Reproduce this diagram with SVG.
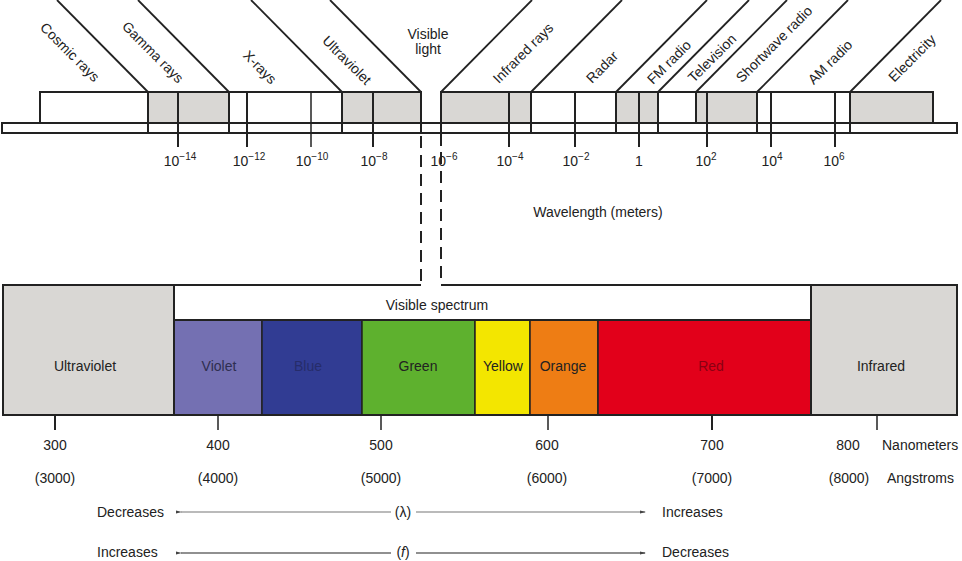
<svg xmlns="http://www.w3.org/2000/svg" width="962" height="561" viewBox="0 0 962 561">
<defs>
<style>
text{font-family:"Liberation Sans",Arial,sans-serif;font-size:14px;fill:#222}
.m{text-anchor:middle}
.box{stroke:#222;stroke-width:2}
.g{fill:#d9d7d4}
.w{fill:#fff}
.ln{stroke:#222;stroke-width:2;fill:none}
.tk{stroke:#222;stroke-width:2}
.dg{stroke:#222;stroke-width:1.8}
.dash{stroke:#222;stroke-width:2;stroke-dasharray:12 7;fill:none}
.band{stroke:#222;stroke-width:1.5}
</style>
<marker id="al" viewBox="0 0 6 6" refX="1" refY="3" markerWidth="6" markerHeight="6" orient="auto-start-reverse" markerUnits="userSpaceOnUse"><path d="M6,1.5 L0,3 L6,4.5 Z" fill="#444"/></marker>
<marker id="ar" viewBox="0 0 6 6" refX="5" refY="3" markerWidth="6" markerHeight="6" orient="auto" markerUnits="userSpaceOnUse"><path d="M0,1.5 L6,3 L0,4.5 Z" fill="#444"/></marker>
</defs>
<rect width="962" height="561" fill="#fff"/>

<!-- axis strip -->
<rect id="axis" x="2" y="123" width="955" height="10" class="box w"/>

<!-- top spectrum bands -->
<g id="cosmic"><rect x="40" y="92" width="108" height="31" class="box w"/><text class="m" transform="rotate(45 70 52)" x="70" y="57">Cosmic rays</text></g>
<g id="gamma"><rect x="148" y="92" width="81" height="31" class="box g"/><text class="m" transform="rotate(45 153 52)" x="153" y="57">Gamma rays</text></g>
<g id="xrays"><rect x="229" y="92" width="113" height="31" class="box w"/><text class="m" transform="rotate(45 260 67)" x="260" y="72">X-rays</text></g>
<g id="uv-top"><rect x="342" y="92" width="79" height="31" class="box g"/><text class="m" transform="rotate(45 347 60)" x="347" y="65">Ultraviolet</text></g>
<g id="visible-top"><text class="m" x="428" y="39">Visible</text><text class="m" x="428" y="54">light</text></g>
<g id="infrared-top"><rect x="441" y="92" width="90" height="31" class="box g"/><text class="m" transform="rotate(-45 523 53)" x="523" y="58">Infrared rays</text></g>
<g id="radar"><rect x="531" y="92" width="85" height="31" class="box w"/><text class="m" transform="rotate(-45 602 67)" x="602" y="72">Radar</text></g>
<g id="fm"><rect x="616" y="92" width="42" height="31" class="box g"/><text class="m" transform="rotate(-45 669 62)" x="669" y="67">FM radio</text></g>
<g id="tv"><rect x="658" y="92" width="38" height="31" class="box w"/><text class="m" transform="rotate(-45 712 58)" x="712" y="63">Television</text></g>
<g id="shortwave"><rect x="696" y="92" width="61" height="31" class="box g"/><text class="m" transform="rotate(-45 774 44)" x="774" y="49">Shortwave radio</text></g>
<g id="am"><rect x="757" y="92" width="93" height="31" class="box w"/><text class="m" transform="rotate(-45 830 62)" x="830" y="67">AM radio</text></g>
<g id="electricity"><rect x="850" y="92" width="83" height="31" class="box g"/><text class="m" transform="rotate(-45 912 58)" x="912" y="63">Electricity</text></g>

<!-- connectors -->
<g id="connectors">
<!-- diagonal leader lines -->
<line class="dg" x1="148" y1="92" x2="57" y2="0"/>
<line class="dg" x1="229" y1="92" x2="138" y2="0"/>
<line class="dg" x1="342" y1="92" x2="251" y2="0"/>
<line class="dg" x1="421" y1="92" x2="330" y2="0"/>
<line class="dg" x1="441" y1="92" x2="532" y2="0"/>
<line class="dg" x1="531" y1="92" x2="622" y2="0"/>
<line class="dg" x1="616" y1="92" x2="707" y2="0"/>
<line class="dg" x1="658" y1="92" x2="749" y2="0"/>
<line class="dg" x1="696" y1="92" x2="787" y2="0"/>
<line class="dg" x1="757" y1="92" x2="848" y2="0"/>
<line class="dg" x1="850" y1="92" x2="941" y2="0"/>
<!-- boundaries through strip -->
<g class="tk">
<line x1="148" y1="92" x2="148" y2="133"/>
<line x1="229" y1="92" x2="229" y2="133"/>
<line x1="342" y1="92" x2="342" y2="133"/>
<line x1="421" y1="92" x2="421" y2="134"/>
<line x1="531" y1="92" x2="531" y2="133"/>
<line x1="616" y1="92" x2="616" y2="133"/>
<line x1="658" y1="92" x2="658" y2="133"/>
<line x1="757" y1="92" x2="757" y2="133"/>
<line x1="850" y1="92" x2="850" y2="133"/>
<!-- ticks -->
<line x1="178" y1="92" x2="178" y2="147"/>
<line x1="247" y1="92" x2="247" y2="147"/>
<line x1="311" y1="92" x2="311" y2="147" stroke-width="1.5"/>
<line x1="373" y1="92" x2="373" y2="147"/>
<line x1="441" y1="92" x2="441" y2="146"/>
<line x1="509" y1="92" x2="509" y2="147"/>
<line x1="575" y1="92" x2="575" y2="147"/>
<line x1="639" y1="92" x2="639" y2="147"/>
<line x1="707" y1="92" x2="707" y2="147"/>
<line x1="771" y1="92" x2="771" y2="147"/>
<line x1="835" y1="92" x2="835" y2="147"/>
</g>
<!-- dashed zoom lines -->
<path class="dash" d="M421,136 V285"/>
<path class="dash" d="M441,152 V285"/>
<!-- arrows -->
<line x1="181" y1="512" x2="391" y2="512" stroke="#777" stroke-width="1.2" marker-start="url(#al)"/>
<line x1="416" y1="512" x2="645" y2="512" stroke="#777" stroke-width="1.2" marker-end="url(#ar)"/>
<line x1="181" y1="553" x2="391" y2="553" stroke="#222" stroke-width="1.2" marker-start="url(#al)"/>
<line x1="416" y1="553" x2="645" y2="553" stroke="#222" stroke-width="1.2" marker-end="url(#ar)"/>
<!-- bottom ticks -->
<g class="tk">
<line x1="55" y1="401" x2="55" y2="430"/>
<line x1="218" y1="401" x2="218" y2="430" stroke-width="1.5"/>
<line x1="381" y1="401" x2="381" y2="430" stroke-width="1.5"/>
<line x1="548" y1="401" x2="548" y2="430" stroke-width="1.5"/>
<line x1="712" y1="401" x2="712" y2="430"/>
<line x1="877" y1="401" x2="877" y2="430" stroke-width="1.5"/>
</g>
</g>

<!-- tick labels -->
<g id="wavelength-labels">
<text class="m" x="180" y="166">10<tspan dy="-6" font-size="10">−14</tspan></text>
<text class="m" x="249" y="166">10<tspan dy="-6" font-size="10">−12</tspan></text>
<text class="m" x="312" y="166">10<tspan dy="-6" font-size="10">−10</tspan></text>
<text class="m" x="374" y="166">10<tspan dy="-6" font-size="10">−8</tspan></text>
<text class="m" x="444" y="166">10<tspan dy="-6" font-size="10">−6</tspan></text>
<text class="m" x="510" y="166">10<tspan dy="-6" font-size="10">−4</tspan></text>
<text class="m" x="576" y="166">10<tspan dy="-6" font-size="10">−2</tspan></text>
<text class="m" x="639" y="166">1</text>
<text class="m" x="706" y="166">10<tspan dy="-6" font-size="10">2</tspan></text>
<text class="m" x="772" y="166">10<tspan dy="-6" font-size="10">4</tspan></text>
<text class="m" x="834" y="166">10<tspan dy="-6" font-size="10">6</tspan></text>
<text class="m" x="598" y="217">Wavelength (meters)</text>
</g>

<!-- bottom visible spectrum -->
<g id="uv-bottom"><rect x="3" y="285" width="171" height="130" class="g"/><text class="m" x="85" y="371">Ultraviolet</text></g>
<g id="visible-spectrum"><rect x="174" y="285" width="637" height="35" class="w"/><text class="m" x="437" y="310">Visible spectrum</text></g>
<g id="violet"><rect x="174" y="320" width="88" height="95" fill="#7470b2" class="band"/><text class="m" x="219" y="371" style="fill:#2e2e50">Violet</text></g>
<g id="blue"><rect x="262" y="320" width="100" height="95" fill="#313c93" class="band"/><text class="m" x="308" y="371" style="fill:#262c6a">Blue</text></g>
<g id="green"><rect x="362" y="320" width="113" height="95" fill="#5eb12e" class="band"/><text class="m" x="418" y="371">Green</text></g>
<g id="yellow"><rect x="475" y="320" width="55" height="95" fill="#f3e600" class="band"/><text class="m" x="503" y="371">Yellow</text></g>
<g id="orange"><rect x="530" y="320" width="68" height="95" fill="#ee7d14" class="band"/><text class="m" x="563" y="371">Orange</text></g>
<g id="red"><rect x="598" y="320" width="213" height="95" fill="#e2001a" class="band"/><text class="m" x="711" y="371" style="fill:#8a0012">Red</text></g>
<g id="infrared-bottom"><rect x="811" y="285" width="146" height="130" class="g"/><text class="m" x="881" y="371">Infrared</text></g>
<path class="ln" stroke-width="2.5" d="M421,285 H3 V415 H957 V285 H441"/>
<path class="ln" d="M174,285 V415 M811,285 V415 M174,320 H811"/>

<!-- scale labels -->
<g id="scale">
<text class="m" x="55" y="450">300</text>
<text class="m" x="218" y="450">400</text>
<text class="m" x="381" y="450">500</text>
<text class="m" x="547" y="450">600</text>
<text class="m" x="712" y="450">700</text>
<text class="m" x="848" y="450">800</text>
<text x="882" y="450">Nanometers</text>
<text class="m" x="55" y="483">(3000)</text>
<text class="m" x="218" y="483">(4000)</text>
<text class="m" x="381" y="483">(5000)</text>
<text class="m" x="547" y="483">(6000)</text>
<text class="m" x="712" y="483">(7000)</text>
<text class="m" x="849" y="483">(8000)</text>
<text x="887" y="483">Angstroms</text>
</g>
<g id="trends">
<text x="97" y="517">Decreases</text>
<text class="m" x="403" y="517">(λ)</text>
<text x="662" y="517">Increases</text>
<text x="97" y="557">Increases</text>
<text class="m" x="403" y="557">(<tspan font-style="italic">f</tspan>)</text>
<text x="662" y="557">Decreases</text>
</g>
</svg>
